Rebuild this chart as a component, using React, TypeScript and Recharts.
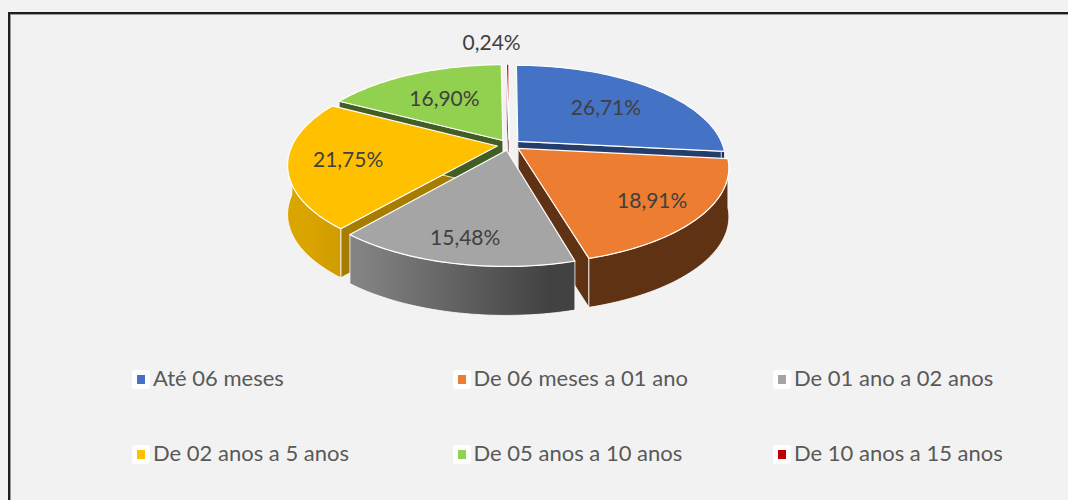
import React from 'react';
import { PieChart, Pie } from 'recharts';

// ---------- data ----------
const categories = [
  'Até 06 meses',
  'De 06 meses a 01 ano',
  'De 01 ano a 02 anos',
  'De 02 anos a 5 anos',
  'De 05 anos a 10 anos',
  'De 10 anos a 15 anos',
];
const shares = [26.71, 18.91, 15.48, 21.75, 16.9, 0.24];

// ---------- style ----------
const sliceColors = ['#4472C4', '#ED7D31', '#A5A5A5', '#FFC000', '#92D050', '#C00000'];
const FONT = 'Lato, "Open Sans", sans-serif';

const data = categories.map((name, i) => ({ name, value: shares[i] }));

// 3D projection parameters
const CX = 509;
const CY = 145;
const R = 205;
const TILT = 0.448;
const PERSP = 0.19;
const DEPTH = 49;
const EXPLODE = 0.058;
const RAD = Math.PI / 180;

type P = { cx: number; cy: number; r: number; mid: number };

function proj(p: P, X: number, Z: number, drop: number): [number, number] {
  const d = 1 + PERSP * Z;
  return [p.cx + (p.r * X) / d, p.cy - (p.r * TILT * Z) / d + drop];
}
function pt(p: P, theta: number, f: number, drop: number): [number, number] {
  const X = EXPLODE * Math.cos(p.mid * RAD) + f * Math.cos(theta * RAD);
  const Z = EXPLODE * Math.sin(p.mid * RAD) + f * Math.sin(theta * RAD);
  return proj(p, X, Z, drop);
}
function arcPts(p: P, a0: number, a1: number, drop: number) {
  const n = Math.max(2, Math.ceil(Math.abs(a1 - a0) / 1.5));
  const pts: [number, number][] = [];
  for (let k = 0; k <= n; k++) pts.push(pt(p, a0 + ((a1 - a0) * k) / n, 1, drop));
  return pts;
}
const toPath = (pts: [number, number][]) =>
  'M' + pts.map((q) => q[0].toFixed(2) + ',' + q[1].toFixed(2)).join('L') + 'Z';

function shade(hex: string, f: number) {
  const n = parseInt(hex.slice(1), 16);
  const c = [(n >> 16) & 255, (n >> 8) & 255, n & 255].map((v) => Math.max(0, Math.min(255, Math.round(v * f))));
  return 'rgb(' + c.join(',') + ')';
}

function geom(props: any) {
  const s = Number(props.startAngle);
  const e = Number(props.endAngle);
  const p: P = { cx: Number(props.cx), cy: Number(props.cy), r: Number(props.outerRadius), mid: Number(props.midAngle) };
  return { p, hi: Math.max(s, e), lo: Math.min(s, e) };
}

// pass 1: radial cut faces
function renderCutFaces(props: any) {
  const { p, hi, lo } = geom(props);
  const color = sliceColors[props.index];
  const faces: React.ReactNode[] = [];
  const edges: [number, number][] = [
    [hi, hi + 90],
    [lo, lo - 90],
  ];
  edges.forEach(([a, normal], k) => {
    const sn = Math.sin(normal * RAD);
    if (sn < -0.01) {
      const light = 0.4 + 0.25 * Math.max(0, Math.cos((normal + 40) * RAD));
      const pts: [number, number][] = [pt(p, a, 0, 0), pt(p, a, 1, 0), pt(p, a, 1, DEPTH), pt(p, a, 0, DEPTH)];
      faces.push(
        <path key={k} d={toPath(pts)} fill={shade(color, light)} stroke="#ffffff" strokeWidth={0.8} strokeLinejoin="round" />
      );
    }
  });
  return <g key={'cut' + props.index}>{faces}</g>;
}

// pass 2: outer walls
function renderWalls(props: any) {
  const { p, hi, lo } = geom(props);
  const color = sliceColors[props.index];
  const a = Math.min(hi, 0);
  const b = Math.max(lo, -180);
  if (b >= a) return <g key={'wall' + props.index} />;
  const top = arcPts(p, a, b, 0);
  const bottom = arcPts(p, b, a, DEPTH);
  const id = 'wallGrad' + props.index;
  return (
    <g key={'wall' + props.index}>
      <defs>
        <linearGradient id={id} gradientUnits="userSpaceOnUse" x1={p.cx - p.r} y1={0} x2={p.cx + p.r} y2={0}>
          <stop offset="0" stopColor={shade(color, 0.86)} />
          <stop offset="0.15" stopColor={shade(color, 0.78)} />
          <stop offset="0.6" stopColor={shade(color, 0.4)} />
          <stop offset="1" stopColor={shade(color, 0.4)} />
        </linearGradient>
      </defs>
      <path d={toPath([...top, ...bottom])} fill={`url(#${id})`} stroke="#ffffff" strokeWidth={0.8} strokeLinejoin="round" />
    </g>
  );
}

// pass 3: top faces and labels
function renderTops(props: any) {
  const { p, hi, lo } = geom(props);
  const color = sliceColors[props.index];
  const pts: [number, number][] = [pt(p, hi, 0, 0), ...arcPts(p, hi, lo, 0)];
  const txt = Number(props.value).toFixed(2).replace('.', ',') + '%';
  const small = Number(props.percent) < 0.01;
  let lx: number;
  let ly: number;
  if (small) {
    const rim = pt(p, p.mid, 1, 0);
    lx = rim[0] - 16;
    ly = rim[1] - 23;
  } else {
    const f = 0.7 - 0.1 * Math.sin(p.mid * RAD);
    [lx, ly] = pt(p, p.mid, f, 0);
  }
  return (
    <g key={'top' + props.index}>
      <path d={toPath(pts)} fill={color} stroke="#ffffff" strokeWidth={1.2} strokeLinejoin="round" />
      <text x={lx} y={ly} textAnchor="middle" dominantBaseline="central" fill="#404040" fontSize={21} fontFamily={FONT}>
        {txt}
      </text>
    </g>
  );
}

const pieCommon = {
  data,
  dataKey: 'value',
  nameKey: 'name',
  cx: CX,
  cy: CY,
  outerRadius: R,
  startAngle: 90,
  endAngle: -270,
  isAnimationActive: false,
  labelLine: false,
  stroke: 'none',
  fill: 'none',
  legendType: 'none' as const,
};

export default function App() {
  return (
    <div style={{ position: 'absolute', left: 0, top: 0, width: 1068, height: 500, background: '#f2f2f2', overflow: 'hidden' }}>
      <div
        style={{
          position: 'absolute',
          left: 8,
          top: 12,
          width: 1100,
          height: 520,
          borderLeft: '2px solid #1e1e1e',
          borderTop: '2px solid #1e1e1e',
          boxShadow: 'inset 1px 1px 0 #9a9a9a',
        }}
      />
      <div style={{ position: 'absolute', left: 0, top: 0 }}>
        <PieChart width={1068} height={500} margin={{ top: 0, right: 0, bottom: 0, left: 0 }}>
          <Pie {...pieCommon} label={renderCutFaces} />
          <Pie {...pieCommon} label={renderWalls} />
          <Pie {...pieCommon} label={renderTops} />
        </PieChart>
      </div>
      {categories.map((c, i) => {
        const col = i % 3;
        const row = Math.floor(i / 3);
        const left = 132 + col * 320.5;
        const top = 370 + row * 75;
        return (
          <div key={c} style={{ position: 'absolute', left, top, height: 25 }}>
            <div
              style={{
                position: 'absolute',
                left: 0,
                top: 0,
                width: 18,
                height: 19,
                background: '#ffffff',
                borderRadius: 3,
              }}
            >
              <div style={{ position: 'absolute', left: 5, top: 5, width: 8, height: 9, background: sliceColors[i] }} />
            </div>
            <div
              style={{
                position: 'absolute',
                left: 21,
                top: -5,
                whiteSpace: 'nowrap',
                fontFamily: FONT,
                fontSize: 22,
                lineHeight: '26px',
                color: '#595959',
              }}
            >
              {c}
            </div>
          </div>
        );
      })}
    </div>
  );
}
